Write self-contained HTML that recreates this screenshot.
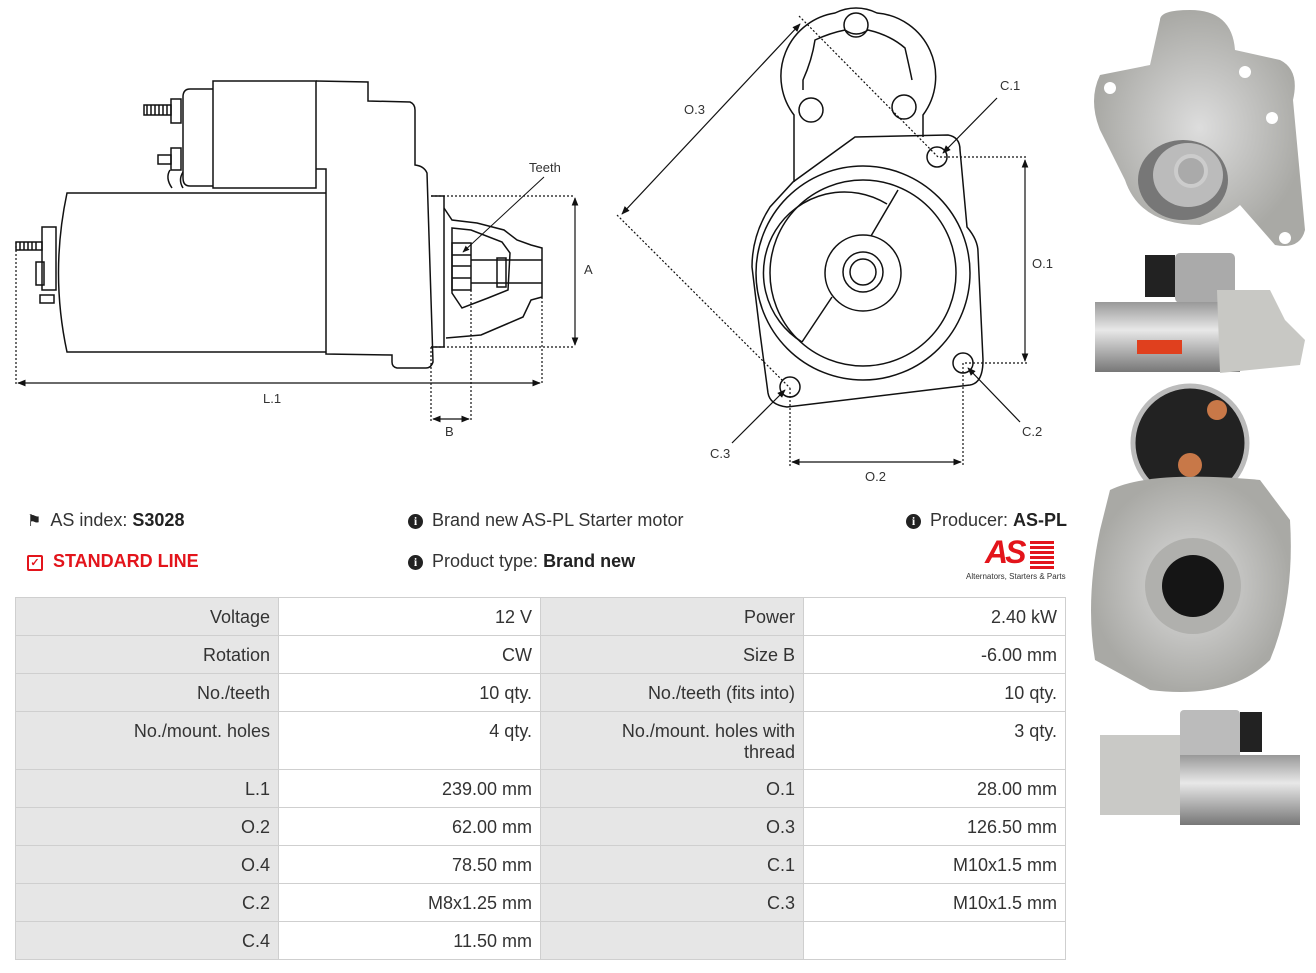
<!DOCTYPE html>
<html><head><meta charset="utf-8"><style>
body{margin:0;width:1316px;height:973px;background:#fff;position:relative;overflow:hidden;font-family:"Liberation Sans",sans-serif;color:#333}
.t{position:absolute;font-size:18px;white-space:nowrap}
.c{position:absolute;box-sizing:border-box;border:1.5px solid #cfcfcf;font-size:18px;text-align:right;padding:9px 8px 0 0;line-height:21px;color:#333}
.g{background:#e6e6e6}.w{background:#fff}
.ic{display:inline-block;width:15px;height:15px;border-radius:50%;background:#222;color:#fff;font-size:12px;font-weight:bold;text-align:center;line-height:15px;font-family:"Liberation Serif",serif;vertical-align:1px;margin-right:9px}
</style></head><body>
<svg width="1316" height="973" style="position:absolute;left:0;top:0" fill="none" stroke="#111" stroke-width="1.5">
<defs><marker id="a" viewBox="0 0 10 10" refX="9" refY="5" markerWidth="7" markerHeight="7" orient="auto-start-reverse"><path d="M0,1L10,5L0,9z" fill="#111" stroke="none"/></marker>
<linearGradient id="m" x1="0" y1="0" x2="0" y2="1"><stop offset="0" stop-color="#999"/><stop offset=".4" stop-color="#e8e8e8"/><stop offset="1" stop-color="#777"/></linearGradient>
<radialGradient id="r"><stop offset="0" stop-color="#ddd"/><stop offset="1" stop-color="#a9a9a5"/></radialGradient></defs>
<!-- side view -->
<rect x="213" y="81" width="103" height="107"/>
<path d="M213,89 H190 Q183,89 183,97 V178 Q183,186 190,186 H213"/>
<path d="M316,81 L368,82 V101 L410,102 Q415,104 415,110 V165 Q424,166 427,173 L433,362 Q431,368 426,368 H397 Q392,367 392,362 V355 L326,354 V169 H316"/>
<path d="M326,193 H67 Q50,273 67,352 H326"/>
<path d="M172,188 Q165,178 170,170 M183,188 Q178,180 183,172"/>
<rect x="144" y="105" width="27" height="10"/><rect x="171" y="99" width="10" height="24"/>
<path d="M147,105V115M151,105V115M155,105V115M159,105V115M163,105V115M167,105V115"/>
<rect x="158" y="155" width="13" height="9"/><rect x="171" y="148" width="10" height="22"/>
<rect x="16" y="242" width="26" height="8"/><path d="M20,242V250M24,242V250M28,242V250M32,242V250M36,242V250"/>
<rect x="42" y="227" width="14" height="63"/><rect x="36" y="262" width="8" height="23"/>
<rect x="40" y="295" width="14" height="8"/>
<path d="M431,196 H444 V347 H431"/>
<path d="M444,208 L452,220 L477,223 L504,230 L517,240 L531,245 L542,248 V297 L531,300 L523,317 L481,335 L446,338"/>
<path d="M452,228 L471,230 L502,242 L510,253 L508,290 L488,298 L462,308 L452,293 Z"/>
<rect x="452" y="243" width="19" height="47"/><path d="M452,255H471M452,266H471M452,278H471"/>
<path d="M471,260 H542 M471,283 H542"/><rect x="497" y="258" width="9" height="29"/>
<g stroke-dasharray="2,2" stroke-width="1.2">
<path d="M431,196H575M431,347H575M16,242V385M542,297V385M431,347V422M471,290V422"/></g>
<path d="M575,198V345" marker-start="url(#a)" marker-end="url(#a)" stroke-width="1.2"/>
<path d="M18,383H540" marker-start="url(#a)" marker-end="url(#a)" stroke-width="1.2"/>
<path d="M433,419H469" marker-start="url(#a)" marker-end="url(#a)" stroke-width="1.2"/>
<path d="M544,177L463,252" marker-end="url(#a)" stroke-width="1"/>
<!-- front view -->
<path d="M794,182 V115 A64,64 0 0 1 835,13 Q845,8 856,8 Q867,8 877,13 A64,64 0 0 1 923,115 V137"/>
<path d="M803,90 V80 Q812,60 815,40 Q830,33 845,30 Q856,38 868,30 Q890,35 905,48 Q910,70 912,80"/>
<circle cx="856" cy="25" r="12"/><circle cx="811" cy="110" r="12"/><circle cx="904" cy="107" r="12"/>
<path d="M855,137 L948,135 Q960,137 960,150 L967,227 Q978,240 978,252 L983,360 Q983,383 970,385 L787,407 Q770,405 768,393 L760,333 L752,267 Q752,235 770,207 L793,182 Z"/>
<circle cx="863" cy="273" r="107"/><circle cx="863" cy="273" r="93"/>
<path d="M898,190 L871,236 M832,297 L802,342 M802,342 A74,74 0 0 1 887,204"/>
<circle cx="863" cy="273" r="38"/><circle cx="863" cy="272" r="20"/><circle cx="863" cy="272" r="13"/>
<circle cx="937" cy="157" r="10"/><circle cx="963" cy="363" r="10"/><circle cx="790" cy="387" r="10"/>
<g stroke-dasharray="2,2" stroke-width="1.2">
<path d="M799,16 L938,157 M617,215 L790,388 M940,157H1028M965,363H1028M790,388V466M963,363V466"/></g>
<g stroke-width="1.2">
<path d="M800,24 L622,214" marker-start="url(#a)" marker-end="url(#a)"/>
<path d="M1025,160V361" marker-start="url(#a)" marker-end="url(#a)"/>
<path d="M792,462H961" marker-start="url(#a)" marker-end="url(#a)"/>
<path d="M997,98 L943,153" marker-end="url(#a)"/>
<path d="M1020,422 L968,368" marker-end="url(#a)"/>
<path d="M732,443 L785,390" marker-end="url(#a)"/></g>
<!-- photos -->
<g stroke="none">
<path d="M1160,20 Q1160,10 1190,10 Q1232,10 1235,50 L1280,60 Q1300,70 1293,100 L1305,230 Q1300,250 1275,245 L1240,205 Q1230,215 1200,225 Q1140,225 1125,180 L1100,130 Q1088,100 1100,75 L1150,65 Z" fill="url(#r)"/>
<ellipse cx="1183" cy="180" rx="45" ry="40" fill="#777"/><ellipse cx="1188" cy="175" rx="35" ry="32" fill="#bbb"/>
<circle cx="1191" cy="171" r="15" fill="#aaa" stroke="#ccc" stroke-width="4"/>
<circle cx="1245" cy="72" r="6" fill="#fff"/><circle cx="1110" cy="88" r="6" fill="#fff"/><circle cx="1285" cy="238" r="6" fill="#fff"/><circle cx="1272" cy="118" r="6" fill="#fff"/>
<rect x="1175" y="253" width="60" height="50" rx="5" fill="#aaa"/>
<rect x="1145" y="255" width="30" height="42" fill="#222"/>
<rect x="1095" y="302" width="145" height="70" fill="url(#m)"/>
<path d="M1217,290 H1270 L1285,320 L1305,340 L1300,365 L1220,373 Z" fill="#c8c8c4"/>
<rect x="1137" y="340" width="45" height="14" fill="#e0401e"/>
<circle cx="1190" cy="443" r="57" fill="#222" stroke="#bbb" stroke-width="5"/>
<path d="M1110,490 Q1150,470 1260,480 L1290,520 Q1295,600 1270,660 Q1230,700 1150,690 L1095,660 Q1085,600 1100,530 Z" fill="url(#r)"/>
<circle cx="1193" cy="586" r="48" fill="#b0b0ad"/><circle cx="1193" cy="586" r="31" fill="#151515"/>
<circle cx="1217" cy="410" r="10" fill="#c87848"/><circle cx="1190" cy="465" r="12" fill="#c87848"/>
<rect x="1100" y="735" width="80" height="80" fill="#c9c9c6"/>
<rect x="1180" y="710" width="60" height="50" rx="4" fill="#bbb"/><rect x="1240" y="712" width="22" height="40" fill="#222"/>
<rect x="1180" y="755" width="120" height="70" fill="url(#m)"/>
</g>
</svg>
<div class="t" style="left:529px;top:160px;font-size:13px">Teeth</div>
<div class="t" style="left:584px;top:262px;font-size:13px">A</div>
<div class="t" style="left:263px;top:391px;font-size:13px">L.1</div>
<div class="t" style="left:445px;top:424px;font-size:13px">B</div>
<div class="t" style="left:684px;top:102px;font-size:13px">O.3</div>
<div class="t" style="left:1000px;top:78px;font-size:13px">C.1</div>
<div class="t" style="left:1032px;top:256px;font-size:13px">O.1</div>
<div class="t" style="left:1022px;top:424px;font-size:13px">C.2</div>
<div class="t" style="left:710px;top:446px;font-size:13px">C.3</div>
<div class="t" style="left:865px;top:469px;font-size:13px">O.2</div>

<div class="t" style="left:27px;top:510px"><span style="font-size:16px;color:#222">&#9873;</span>&nbsp; AS index: <b style="color:#222">S3028</b></div>
<div class="t" style="left:27px;top:551px;color:#e3141b;font-weight:bold"><span style="display:inline-block;width:12px;height:12px;border:2px solid #e3141b;border-radius:2px;font-size:11px;line-height:12px;text-align:center;margin-right:10px;vertical-align:1px">&#10003;</span>STANDARD LINE</div>
<div class="t" style="left:408px;top:510px"><span class="ic">i</span>Brand new AS-PL Starter motor</div>
<div class="t" style="left:408px;top:551px"><span class="ic">i</span>Product type: <b style="color:#222">Brand new</b></div>
<div class="t" style="left:906px;top:510px"><span class="ic">i</span>Producer: <b style="color:#222">AS-PL</b></div>
<div class="t" style="left:985px;top:534px;font-size:32px;font-weight:bold;font-style:italic;color:#e3141b;letter-spacing:-3px">AS</div>
<div style="position:absolute;left:1030px;top:541px;width:24px;height:28px;background:repeating-linear-gradient(#e3141b 0 3px,#fff 3px 5px)"></div>
<div class="t" style="left:966px;top:572px;font-size:8px">Alternators, Starters &amp; Parts</div>

<div class="c g" style="left:15px;top:597px;width:264px;height:39px">Voltage</div>
<div class="c w" style="left:278px;top:597px;width:263px;height:39px">12 V</div>
<div class="c g" style="left:540px;top:597px;width:264px;height:39px">Power</div>
<div class="c w" style="left:803px;top:597px;width:263px;height:39px">2.40 kW</div>
<div class="c g" style="left:15px;top:635px;width:264px;height:39px">Rotation</div>
<div class="c w" style="left:278px;top:635px;width:263px;height:39px">CW</div>
<div class="c g" style="left:540px;top:635px;width:264px;height:39px">Size B</div>
<div class="c w" style="left:803px;top:635px;width:263px;height:39px">-6.00 mm</div>
<div class="c g" style="left:15px;top:673px;width:264px;height:39px">No./teeth</div>
<div class="c w" style="left:278px;top:673px;width:263px;height:39px">10 qty.</div>
<div class="c g" style="left:540px;top:673px;width:264px;height:39px">No./teeth (fits into)</div>
<div class="c w" style="left:803px;top:673px;width:263px;height:39px">10 qty.</div>
<div class="c g" style="left:15px;top:711px;width:264px;height:59px">No./mount. holes</div>
<div class="c w" style="left:278px;top:711px;width:263px;height:59px">4 qty.</div>
<div class="c g" style="left:540px;top:711px;width:264px;height:59px">No./mount. holes with<br>thread</div>
<div class="c w" style="left:803px;top:711px;width:263px;height:59px">3 qty.</div>
<div class="c g" style="left:15px;top:769px;width:264px;height:39px">L.1</div>
<div class="c w" style="left:278px;top:769px;width:263px;height:39px">239.00 mm</div>
<div class="c g" style="left:540px;top:769px;width:264px;height:39px">O.1</div>
<div class="c w" style="left:803px;top:769px;width:263px;height:39px">28.00 mm</div>
<div class="c g" style="left:15px;top:807px;width:264px;height:39px">O.2</div>
<div class="c w" style="left:278px;top:807px;width:263px;height:39px">62.00 mm</div>
<div class="c g" style="left:540px;top:807px;width:264px;height:39px">O.3</div>
<div class="c w" style="left:803px;top:807px;width:263px;height:39px">126.50 mm</div>
<div class="c g" style="left:15px;top:845px;width:264px;height:39px">O.4</div>
<div class="c w" style="left:278px;top:845px;width:263px;height:39px">78.50 mm</div>
<div class="c g" style="left:540px;top:845px;width:264px;height:39px">C.1</div>
<div class="c w" style="left:803px;top:845px;width:263px;height:39px">M10x1.5 mm</div>
<div class="c g" style="left:15px;top:883px;width:264px;height:39px">C.2</div>
<div class="c w" style="left:278px;top:883px;width:263px;height:39px">M8x1.25 mm</div>
<div class="c g" style="left:540px;top:883px;width:264px;height:39px">C.3</div>
<div class="c w" style="left:803px;top:883px;width:263px;height:39px">M10x1.5 mm</div>
<div class="c g" style="left:15px;top:921px;width:264px;height:39px">C.4</div>
<div class="c w" style="left:278px;top:921px;width:263px;height:39px">11.50 mm</div>
<div class="c g" style="left:540px;top:921px;width:264px;height:39px"></div>
<div class="c w" style="left:803px;top:921px;width:263px;height:39px"></div>
</body></html>
